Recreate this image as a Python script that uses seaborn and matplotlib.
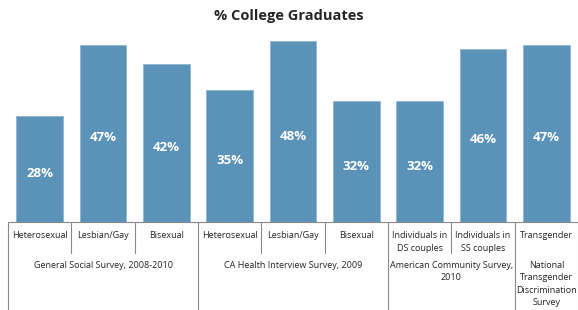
import pandas as pd
import numpy as np
import matplotlib.pyplot as plt
import seaborn as sns
from matplotlib.transforms import blended_transform_factory

# Data
categories = ["Heterosexual", "Lesbian/Gay", "Bisexual",
              "Heterosexual", "Lesbian/Gay", "Bisexual",
              "Individuals in\nDS couples", "Individuals in\nSS couples",
              "Transgender"]
values = [28, 47, 42, 35, 48, 32, 32, 46, 47]
groups = ["General Social Survey, 2008-2010",
          "CA Health Interview Survey, 2009",
          "American Community Survey,\n2010",
          "National\nTransgender\nDiscrimination\nSurvey"]
group_sizes = [3, 3, 2, 1]

df = pd.DataFrame({"pos": [str(i) for i in range(len(values))],
                   "value": values})

sns.set_style("white")
plt.rcParams['font.family'] = ['Open Sans', 'DejaVu Sans']

fig = plt.figure(figsize=(5.78, 3.10), dpi=100)
ax = fig.add_axes([8 / 578, 88 / 310, 570 / 578, 190 / 310])

sns.barplot(data=df, x="pos", y="value", color="#5b93b8", width=0.74,
            edgecolor="#8fb6d0", linewidth=0.6, saturation=1, ax=ax)

ax.set_xlim(-0.5, 8.5)
ax.set_ylim(0, 50.4)
ax.set_xlabel("")
ax.set_ylabel("")
ax.set_xticks([])
ax.set_yticks([])
for s in ["top", "right", "left"]:
    ax.spines[s].set_visible(False)
ax.spines["bottom"].set_color("#888888")
ax.spines["bottom"].set_linewidth(0.8)

# value labels inside bars
for i, v in enumerate(values):
    ax.text(i, v / 2 - 1.2, f"{v}%", ha="center", va="center",
            color="white", fontsize=9.5, fontweight="bold")

trans = blended_transform_factory(ax.transData, ax.transAxes)

# category labels and short separators
for i, c in enumerate(categories):
    ax.text(i, -0.05, c, ha="center", va="top", fontsize=6.5,
            color="#222222", transform=trans, linespacing=1.5)
edges = np.cumsum([0] + group_sizes) - 0.5
for x in np.arange(-0.5, 9.0, 1.0):
    if x in edges:
        ax.plot([x, x], [0, -0.47], color="#888888", lw=0.8,
                transform=trans, clip_on=False)
    else:
        ax.plot([x, x], [0, -0.165], color="#888888", lw=0.8,
                transform=trans, clip_on=False)

# group labels
for g, a, b in zip(groups, edges[:-1], edges[1:]):
    ax.text((a + b) / 2, -0.205, g, ha="center", va="top", fontsize=6.5,
            color="#222222", transform=trans, linespacing=1.5)

fig.text(0.5, 0.948, "% College Graduates", ha="center", va="center",
         fontsize=10.5, fontweight="bold")

fig.savefig("out.png", dpi=100)
